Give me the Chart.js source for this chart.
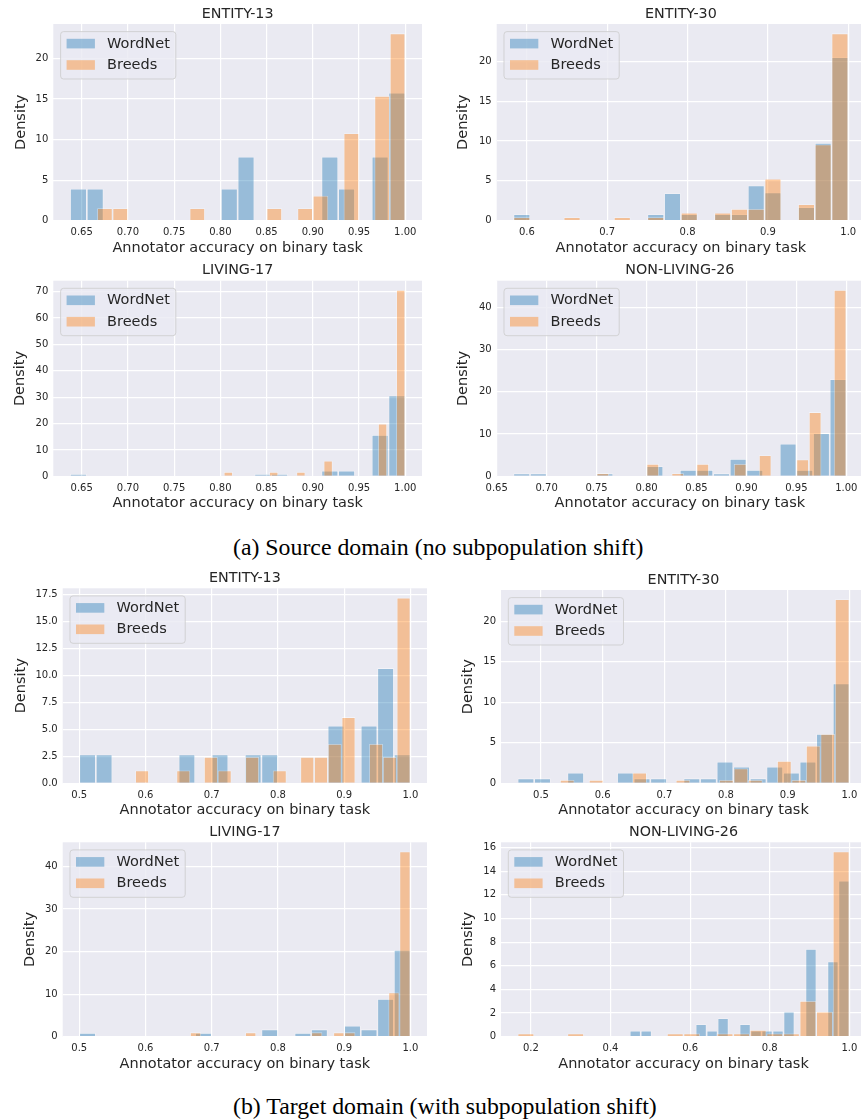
<!DOCTYPE html>
<html><head><meta charset="utf-8">
<script src="https://cdn.jsdelivr.net/npm/chart.js@4.4.1/dist/chart.umd.min.js"></script>
<style>
html,body{margin:0;padding:0;background:#fff;}
body{width:861px;height:1120px;overflow:hidden;position:relative;}
canvas{position:absolute;}
.cap{position:absolute;font-family:"Liberation Serif","Times New Roman",serif;font-size:23.8px;line-height:1;white-space:nowrap;color:#000;}
</style></head><body>
<div class="cap" style="left:233px;top:536px">(a) Source domain (no subpopulation shift)</div>
<div class="cap" style="left:233px;top:1094.6px">(b) Target domain (with subpopulation shift)</div>
<script>
// ---------------- DATA (density per histogram bin, 20 bins each) ----------------
const SERIES_LABELS = ['WordNet', 'Breeds'];

// (a) Source domain
const SRC_E13_WORDNET_RANGE = [0.6374, 1.0];
const SRC_E13_WORDNET = [3.94,3.94,0,0,0,0,0,0,0,3.94,7.88,0,0,0,0,7.88,3.94,0,7.88,15.76];
const SRC_E13_BREEDS_RANGE = [0.6667, 1.0];
const SRC_E13_BREEDS = [1.54,1.54,0,0,0,0,1.54,0,0,0,0,1.54,0,1.54,3.08,0,10.77,0,15.38,23.08];
const SRC_E13_XTICKS = ['0.65','0.70','0.75','0.80','0.85','0.90','0.95','1.00'];
const SRC_E13_YTICKS = ['0','5','10','15','20'];

const SRC_E30_WORDNET_RANGE = [0.5833, 1.0];
const SRC_E30_WORDNET = [0.81,0,0,0,0,0,0,0,0.81,3.45,0.81,0,0.81,0.81,4.41,3.53,0,1.69,9.76,20.5];
const SRC_E30_BREEDS_RANGE = [0.5833, 1.0];
const SRC_E30_BREEDS = [0.43,0,0,0.43,0,0,0.43,0,0.43,0,1.0,0,1.0,1.47,1.47,5.26,0,2.07,9.55,23.5];
const SRC_E30_XTICKS = ['0.6','0.7','0.8','0.9','1.0'];
const SRC_E30_YTICKS = ['0','5','10','15','20'];

const SRC_L17_WORDNET_RANGE = [0.6374, 1.0];
const SRC_L17_WORDNET = [0.87,0,0,0,0,0,0,0,0,0,0,0.87,0.87,0,0,2.12,2.12,0,15.7,30.6];
const SRC_L17_BREEDS_RANGE = [0.8037, 1.0];
const SRC_L17_BREEDS = [1.63,0,0,0,0,1.63,0,0,1.63,0,0,5.9,0,0,0,0,0,19.9,0,70.6];
const SRC_L17_XTICKS = ['0.65','0.70','0.75','0.80','0.85','0.90','0.95','1.00'];
const SRC_L17_YTICKS = ['0','10','20','30','40','50','60','70'];

const SRC_N26_WORDNET_RANGE = [0.6667, 1.0];
const SRC_N26_WORDNET = [0.7,0.7,0,0,0,0.7,0,0,2.4,0,1.5,1.5,0.7,4.1,1.5,0,7.7,1.5,10.2,23.0];
const SRC_N26_BREEDS_RANGE = [0.75, 1.0];
const SRC_N26_BREEDS = [0.75,0,0,0,2.9,0,0.75,0,2.9,0,0,2.9,0,5.0,0,0,4.0,15.2,0,44.1];
const SRC_N26_XTICKS = ['0.65','0.70','0.75','0.80','0.85','0.90','0.95','1.00'];
const SRC_N26_YTICKS = ['0','10','20','30','40'];

// (b) Target domain
const TGT_E13_WORDNET_RANGE = [0.5, 1.0];
const TGT_E13_WORDNET = [2.667,2.667,0,0,0,0,2.667,0,2.667,0,2.667,2.667,0,0,0,5.333,0,5.333,10.667,2.667];
const TGT_E13_BREEDS_RANGE = [0.5844, 1.0];
const TGT_E13_BREEDS = [1.18,0,0,1.18,0,2.43,1.18,0,2.43,0,1.18,0,2.43,2.43,3.64,6.13,0,3.64,2.43,17.2];
const TGT_E13_XTICKS = ['0.5','0.6','0.7','0.8','0.9','1.0'];
const TGT_E13_YTICKS = ['0.0','2.5','5.0','7.5','10.0','12.5','15.0','17.5'];

const TGT_E30_WORDNET_RANGE = [0.4621, 1.0];
const TGT_E30_WORDNET = [0.61,0.61,0,1.31,0,0,1.31,0.61,0.61,0,0.61,0.61,2.66,2.05,0.61,2.05,1.31,2.66,6.07,12.3];
const TGT_E30_BREEDS_RANGE = [0.5308, 1.0];
const TGT_E30_BREEDS = [0.41,0,0.41,0,0,1.31,0,0,0.41,0,0,0.41,1.84,0.41,0,2.75,0.41,4.63,6.07,22.7];
const TGT_E30_XTICKS = ['0.5','0.6','0.7','0.8','0.9','1.0'];
const TGT_E30_YTICKS = ['0','5','10','15','20'];

const TGT_L17_WORDNET_RANGE = [0.5, 1.0];
const TGT_L17_WORDNET = [0.86,0,0,0,0,0,0,0.86,0,0,0,1.73,0,0.86,1.73,0,2.59,1.73,8.86,20.4];
const TGT_L17_BREEDS_RANGE = [0.6673, 1.0];
const TGT_L17_BREEDS = [1.02,0,0,0,0,1.02,0,0,0,0,0,1.02,0,1.02,1.02,0,0,0,10.4,43.5];
const TGT_L17_XTICKS = ['0.5','0.6','0.7','0.8','0.9','1.0'];
const TGT_L17_YTICKS = ['0','10','20','30','40'];

const TGT_N26_WORDNET_RANGE = [0.4483, 1.0];
const TGT_N26_WORDNET = [0.51,0.51,0,0,0,0,1.05,0.51,1.56,0,1.05,0.51,0.51,0.51,2.12,0,7.42,0,6.37,13.2];
const TGT_N26_BREEDS_RANGE = [0.1667, 1.0];
const TGT_N26_BREEDS = [0.28,0,0,0.28,0,0,0,0,0,0.28,0.28,0,0.28,0.28,0.57,0.28,0.28,3.03,2.12,15.66];
const TGT_N26_XTICKS = ['0.2','0.4','0.6','0.8','1.0'];
const TGT_N26_YTICKS = ['0','2','4','6','8','10','12','14','16'];

// ---------------- STYLE / LAYOUT ----------------
const FONT = '"DejaVu Sans", Verdana, sans-serif';
const TXT = '#262626';
const BG = '#EAEAF2';
const COLORS = ['rgba(31,119,180,0.4)', 'rgba(255,127,14,0.4)'];
const EDGE = 'rgba(255,255,255,0.45)';
const XLABEL = 'Annotator accuracy on binary task';
const YLABEL = 'Density';

const PANELS = [
  {title:'ENTITY-13', wn:[SRC_E13_WORDNET_RANGE,SRC_E13_WORDNET], br:[SRC_E13_BREEDS_RANGE,SRC_E13_BREEDS], xt:SRC_E13_XTICKS, yt:SRC_E13_YTICKS, box:[53.3,24,421.7,220.7], dens:32.5},
  {title:'ENTITY-30', wn:[SRC_E30_WORDNET_RANGE,SRC_E30_WORDNET], br:[SRC_E30_BREEDS_RANGE,SRC_E30_BREEDS], xt:SRC_E30_XTICKS, yt:SRC_E30_YTICKS, box:[496.7,24,865,220.7], dens:33.4},
  {title:'LIVING-17', wn:[SRC_L17_WORDNET_RANGE,SRC_L17_WORDNET], br:[SRC_L17_BREEDS_RANGE,SRC_L17_BREEDS], xt:SRC_L17_XTICKS, yt:SRC_L17_YTICKS, box:[53.3,280.7,421.7,476.3], dens:33.3},
  {title:'NON-LIVING-26', wn:[SRC_N26_WORDNET_RANGE,SRC_N26_WORDNET], br:[SRC_N26_BREEDS_RANGE,SRC_N26_BREEDS], xt:SRC_N26_XTICKS, yt:SRC_N26_YTICKS, box:[496.7,280.7,863.3,476.3], dens:33.4},
  {title:'ENTITY-13', wn:[TGT_E13_WORDNET_RANGE,TGT_E13_WORDNET], br:[TGT_E13_BREEDS_RANGE,TGT_E13_BREEDS], xt:TGT_E13_XTICKS, yt:TGT_E13_YTICKS, box:[62.7,588.3,426.7,783.3], dens:41.9},
  {title:'ENTITY-30', wn:[TGT_E30_WORDNET_RANGE,TGT_E30_WORDNET], br:[TGT_E30_BREEDS_RANGE,TGT_E30_BREEDS], xt:TGT_E30_XTICKS, yt:TGT_E30_YTICKS, box:[501,590,865.6,783.3], dens:32.7},
  {title:'LIVING-17', wn:[TGT_L17_WORDNET_RANGE,TGT_L17_WORDNET], br:[TGT_L17_BREEDS_RANGE,TGT_L17_BREEDS], xt:TGT_L17_XTICKS, yt:TGT_L17_YTICKS, box:[62.7,842.3,426.7,1036.7], dens:32.7},
  {title:'NON-LIVING-26', wn:[TGT_N26_WORDNET_RANGE,TGT_N26_WORDNET], br:[TGT_N26_BREEDS_RANGE,TGT_N26_BREEDS], xt:TGT_N26_XTICKS, yt:TGT_N26_YTICKS, box:[501,842.3,865.7,1036.7], dens:32.7}
];

function binPoints(range, vals) {
  const lo = range[0], hi = range[1], w = (hi - lo) / vals.length;
  return vals.map((v, i) => ({x: lo + (i + 0.5) * w, y: v}));
}

const bgPlugin = {
  id: 'plotBg',
  beforeDraw(chart) {
    const a = chart.chartArea, ctx = chart.ctx;
    ctx.save(); ctx.fillStyle = BG;
    ctx.fillRect(a.left, a.top, a.right - a.left, a.bottom - a.top);
    ctx.restore();
  }
};

const legendPlugin = {
  id: 'mplLegend',
  afterDatasetsDraw(chart) {
    const a = chart.chartArea, ctx = chart.ctx;
    const ds = chart.data.datasets;
    ctx.save();
    ctx.font = '14.5px ' + FONT;
    const tw = Math.max(...ds.map(d => ctx.measureText(d.label).width));
    const fx = a.left + 7.3, fy = a.top + 7.6, fw = 46.5 + tw + 6, fh = 47.4, r = 3;
    ctx.beginPath();
    ctx.moveTo(fx + r, fy); ctx.lineTo(fx + fw - r, fy); ctx.arcTo(fx + fw, fy, fx + fw, fy + r, r);
    ctx.lineTo(fx + fw, fy + fh - r); ctx.arcTo(fx + fw, fy + fh, fx + fw - r, fy + fh, r);
    ctx.lineTo(fx + r, fy + fh); ctx.arcTo(fx, fy + fh, fx, fy + fh - r, r);
    ctx.lineTo(fx, fy + r); ctx.arcTo(fx, fy, fx + r, fy, r); ctx.closePath();
    ctx.fillStyle = 'rgba(234,234,242,0.8)'; ctx.fill();
    ctx.strokeStyle = 'rgba(204,204,204,0.8)'; ctx.lineWidth = 1; ctx.stroke();
    ds.forEach((d, i) => {
      const cy = fy + 12 + i * 21.4;
      ctx.fillStyle = d.backgroundColor;
      ctx.fillRect(fx + 6, cy - 4.8, 28.3, 9.6);
      ctx.fillStyle = TXT; ctx.textBaseline = 'middle'; ctx.textAlign = 'left';
      ctx.fillText(d.label, fx + 46.5, cy + 0.3);
    });
    ctx.restore();
  }
};

Chart.defaults.font.family = FONT;
Chart.defaults.color = TXT;

PANELS.forEach((p, k) => {
  const [L, T, R, B] = p.box;
  const cl = Math.round(L - 55), ct = Math.round(T - 26);
  const cr = Math.round(R), cb = Math.round(B + 40);
  const yW = L - cl, tH = T - ct, xH = cb - B;
  const cv = document.createElement('canvas');
  cv.width = cr - cl; cv.height = cb - ct;
  cv.style.left = cl + 'px'; cv.style.top = ct + 'px';
  cv.style.width = (cr - cl) + 'px'; cv.style.height = (cb - ct) + 'px';
  document.body.appendChild(cv);

  const lo = Math.min(p.wn[0][0], p.br[0][0]), hi = Math.max(p.wn[0][1], p.br[0][1]);
  const span = hi - lo;
  const xmin = lo - 0.05 * span, xmax = hi + 0.05 * span;
  const ymax = 1.05 * Math.max(...p.wn[1], ...p.br[1]);
  const xv = p.xt.map(Number), yv = p.yt.map(Number);
  const setXTicks = s => { s.ticks = xv.map(v => ({value: v})); };
  const setYTicks = s => { s.ticks = yv.map(v => ({value: v})); };
  const titleLH = 14.3 * 1.2, labLH = 14.5 * 1.2;
  const pxPerUnit = (cr - L) / (xmax - xmin);
  const thick = r => (r[0][1] - r[0][0]) / r[1].length * pxPerUnit;

  const common = {
    borderColor: EDGE, borderWidth: 0.8, borderSkipped: 'start', inflateAmount: 0,
    grouped: false, yAxisID: 'y'
  };

  new Chart(cv, {
    type: 'bar',
    data: {
      datasets: [
        Object.assign({label: SERIES_LABELS[0], data: binPoints(p.wn[0], p.wn[1]), xAxisID: 'x',
          barThickness: thick(p.wn), backgroundColor: COLORS[0], order: 1}, common),
        Object.assign({label: SERIES_LABELS[1], data: binPoints(p.br[0], p.br[1]), xAxisID: 'x2',
          barThickness: thick(p.br), backgroundColor: COLORS[1], order: 0}, common)
      ]
    },
    options: {
      responsive: false, animation: false, devicePixelRatio: 1,
      layout: {padding: 0},
      plugins: {
        legend: {display: false},
        tooltip: {enabled: false},
        title: {display: true, text: p.title, fullSize: false, color: TXT,
          font: {family: FONT, size: 14.3, weight: 'normal'},
          padding: {top: tH - titleLH - 1.42, bottom: 1.42}}
      },
      scales: {
        x: {
          type: 'linear', position: 'bottom', min: xmin, max: xmax, offset: false,
          grid: {color: '#ffffff', lineWidth: 1.2, drawTicks: false, offset: false},
          border: {display: false},
          afterBuildTicks: setXTicks,
          afterFit: s => { s.height = xH; s.paddingLeft = 0; s.paddingRight = 0; },
          ticks: {autoSkip: false, maxRotation: 0, padding: 6, color: TXT, font: {size: 10},
            callback: (v, i) => p.xt[i]},
          title: {display: true, text: XLABEL, color: TXT, font: {size: 14.5},
            padding: {top: 0, bottom: xH - 27.3 - labLH / 2}}
        },
        x2: {
          type: 'linear', position: 'bottom', display: false, min: xmin, max: xmax, offset: false,
          grid: {offset: false}, afterBuildTicks: setXTicks
        },
        y: {
          type: 'linear', position: 'left', min: 0, max: ymax,
          grid: {color: '#ffffff', lineWidth: 1.2, drawTicks: false},
          border: {display: false},
          afterBuildTicks: setYTicks,
          afterFit: s => { s.width = yW; s.paddingTop = 0; s.paddingBottom = 0; },
          ticks: {padding: 5, color: TXT, font: {size: 10}, callback: (v, i) => p.yt[i]},
          title: {display: true, text: YLABEL, color: TXT, font: {size: 14.5},
            padding: {top: yW - p.dens - labLH / 2, bottom: 0}}
        }
      }
    },
    plugins: [bgPlugin, legendPlugin]
  });
});
</script>
</body></html>
